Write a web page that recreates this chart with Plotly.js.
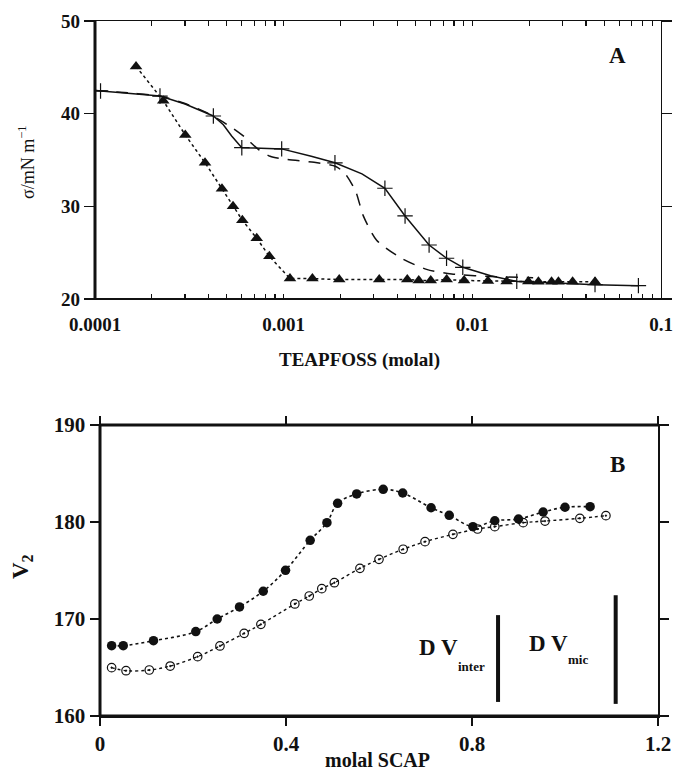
<!DOCTYPE html>
<html><head><meta charset="utf-8">
<script src="https://cdn.plot.ly/plotly-3.0.1.min.js"></script>
<style>body{margin:0;background:#fff}</style>
</head><body><div id="chart" style="width:673px;height:771px"></div>
<script>
// ---- Panel A: surface tension vs TEAPFOSS (molal) ----
const triX = [1.65e-4, 2.30e-4, 3.01e-4, 3.83e-4, 4.71e-4, 5.39e-4, 6.04e-4, 7.2e-4, 8.4e-4, 1.08e-3, 1.42e-3, 1.97e-3, 3.21e-3, 4.52e-3, 5.2e-3, 6.02e-3, 7.31e-3, 9.04e-3, 0.0121, 0.0152, 0.0198, 0.0224, 0.0263, 0.0286, 0.034, 0.0447];
const triY = [45.1, 41.4, 37.7, 34.7, 31.9, 30.0, 28.5, 26.55, 24.6, 22.2, 22.2, 22.1, 22.1, 22.1, 22.0, 22.0, 22.1, 22.0, 21.95, 21.9, 21.9, 21.85, 21.85, 21.85, 21.85, 21.85];

const solidX = [1.0e-4, 1.07e-4, 1.6e-4, 2.21e-4, 3.0e-4, 3.7e-4, 4.24e-4, 4.79e-4, 5.3e-4, 6.0e-4, 9.76e-4, 1.4e-3, 1.87e-3, 2.6e-3, 3.44e-3, 4.4e-3, 5.9e-3, 7.3e-3, 8.9e-3, 0.0125, 0.0172, 0.03, 0.0447, 0.0759];
const solidY = [42.5, 42.45, 42.2, 41.9, 41.05, 40.3, 39.75, 38.8, 37.6, 36.33, 36.2, 35.4, 34.7, 33.5, 31.95, 28.96, 25.83, 24.4, 23.42, 22.5, 21.9, 21.7, 21.55, 21.44];
const solidMarkX = [1.07e-4, 2.21e-4, 4.24e-4, 6.0e-4, 9.76e-4, 1.87e-3, 3.44e-3, 4.4e-3, 5.9e-3, 7.3e-3, 8.9e-3, 0.0172, 0.0447, 0.0759];
const solidMarkY = [42.45, 41.9, 39.75, 36.33, 36.2, 34.7, 31.95, 28.96, 25.83, 24.4, 23.42, 21.9, 21.55, 21.44];

const dashX = [1.0e-4, 1.6e-4, 2.2e-4, 3.0e-4, 3.91e-4, 4.6e-4, 5.4e-4, 6.24e-4, 7.34e-4, 8.47e-4, 1.05e-3, 1.45e-3, 1.89e-3, 2.11e-3, 2.41e-3, 2.64e-3, 3.11e-3, 4.21e-3, 5.72e-3, 7.77e-3, 0.01346, 0.021];
const dashY = [42.5, 42.2, 41.9, 41.1, 40.1, 39.3, 38.4, 37.45, 36.15, 35.4, 35.05, 34.75, 34.3, 33.56, 31.6, 29.0, 26.35, 24.4, 23.2, 22.7, 22.4, 22.3];

const xTicksA = [1e-4, 1e-3, 1e-2, 1e-1];
const xTickTextA = ['0.0001', '0.001', '0.01', '0.1'];
const yTicksA = [20, 30, 40, 50];

// ---- Panel B: V2 vs molal SCAP ----
const filledX = [0.025, 0.050, 0.115, 0.206, 0.252, 0.300, 0.351, 0.399, 0.452, 0.488, 0.511, 0.552, 0.609, 0.651, 0.712, 0.751, 0.802, 0.849, 0.900, 0.953, 1.000, 1.054];
const filledY = [167.25, 167.25, 167.76, 168.7, 170.0, 171.24, 172.86, 175.02, 178.11, 179.93, 181.93, 182.89, 183.37, 182.99, 181.47, 180.69, 179.52, 180.13, 180.31, 181.03, 181.52, 181.58];
const openX = [0.025, 0.056, 0.106, 0.151, 0.210, 0.258, 0.310, 0.346, 0.419, 0.450, 0.477, 0.504, 0.559, 0.600, 0.652, 0.699, 0.759, 0.812, 0.849, 0.910, 0.957, 1.032, 1.088];
const openY = [164.98, 164.67, 164.74, 165.15, 166.12, 167.22, 168.52, 169.45, 171.55, 172.37, 173.13, 173.74, 175.22, 176.15, 177.19, 177.97, 178.73, 179.28, 179.52, 179.93, 180.1, 180.38, 180.65];

const deltaNames = ['inter', 'mic'];
const deltaX = [0.856, 1.109];
const deltaLow = [161.45, 161.25];
const deltaHigh = [170.4, 172.45];

const xTicksB = [0, 0.4, 0.8, 1.2];
const xTickTextB = ['0', '0.4', '0.8', '1.2'];
const yTicksB = [160, 170, 180, 190];

// minor ticks for log axis
const minorA = [];
for (let e = -4; e < -1; e++) for (let m = 2; m <= 9; m++) minorA.push(m * Math.pow(10, e));

const SERIF = 'Liberation Serif, Times New Roman, serif';
const K = '#111';

const traces = [
  {x: dashX, y: dashY, xaxis: 'x', yaxis: 'y', mode: 'lines', line: {color: K, width: 1.5, dash: '12px,9px', shape: 'spline', smoothing: 0.7}, hoverinfo: 'skip'},
  {x: solidX, y: solidY, xaxis: 'x', yaxis: 'y', mode: 'lines', line: {color: K, width: 1.5}, hoverinfo: 'skip'},
  {x: solidMarkX, y: solidMarkY, xaxis: 'x', yaxis: 'y', mode: 'markers', marker: {symbol: 'cross-thin-open', size: 11, color: K, line: {color: K, width: 1.2}}},
  {x: triX, y: triY, xaxis: 'x', yaxis: 'y', mode: 'lines+markers', line: {color: K, width: 1.5, dash: 'dot'}, marker: {symbol: 'triangle-up', size: 11, color: K}},
  {x: filledX, y: filledY, xaxis: 'x2', yaxis: 'y2', mode: 'lines+markers', line: {color: K, width: 1.6, dash: 'dot', shape: 'spline', smoothing: 1}, marker: {symbol: 'circle', size: 9.5, color: K}},
  {x: openX, y: openY, xaxis: 'x2', yaxis: 'y2', mode: 'lines+markers', line: {color: K, width: 1.4, dash: 'dot', shape: 'spline', smoothing: 1}, marker: {symbol: 'circle-open-dot', size: 8.5, color: K, line: {color: K, width: 1.2}}}
];
deltaNames.forEach((n, i) => {
  traces.push({x: [deltaX[i], deltaX[i]], y: [deltaLow[i], deltaHigh[i]], xaxis: 'x2', yaxis: 'y2', mode: 'lines', line: {color: K, width: 4}, hoverinfo: 'skip'});
});

const tf = (s) => ({family: SERIF, size: s, color: K, weight: 'bold'});
const ann = (o) => Object.assign({showarrow: false, xanchor: 'center', yanchor: 'middle'}, o);

const layout = {
  width: 673, height: 771,
  margin: {l: 0, r: 0, t: 0, b: 0},
  paper_bgcolor: '#fff', plot_bgcolor: '#fff',
  showlegend: false,
  xaxis: {
    type: 'log', range: [-4, -1], domain: [95/673, 661/673], anchor: 'y',
    tickvals: xTicksA, ticktext: xTickTextA, ticks: 'inside', ticklen: 5, tickwidth: 1.2, tickcolor: K,
    minor: {tickvals: minorA, ticks: 'inside', ticklen: 5, tickwidth: 1.2, tickcolor: K},
    showline: true, linecolor: K, linewidth: 1.2, mirror: 'ticks', showgrid: false, zeroline: false,
    tickfont: tf(19), ticklabelstandoff: 8
  },
  yaxis: {
    range: [20, 50], domain: [(771-299)/771, (771-21)/771], anchor: 'x',
    tickvals: yTicksA, ticks: 'outside', ticklen: 10, tickwidth: 1.2, tickcolor: K,
    showline: true, linecolor: K, linewidth: 1.2, mirror: 'ticks', showgrid: false, zeroline: false,
    tickfont: tf(19)
  },
  xaxis2: {
    range: [0, 1.2], domain: [100/673, 658/673], anchor: 'y2',
    tickvals: xTicksB, ticktext: xTickTextB, ticks: 'outside', ticklen: 8, tickwidth: 1.5, tickcolor: K,
    showline: true, linecolor: K, linewidth: 1.5, mirror: 'ticks', showgrid: false, zeroline: false,
    tickfont: tf(21), ticklabelstandoff: 0
  },
  yaxis2: {
    range: [160, 190], domain: [(771-716)/771, (771-425)/771], anchor: 'x2',
    tickvals: yTicksB, ticks: 'outside', ticklen: 9, tickwidth: 1.5, tickcolor: K,
    showline: true, linecolor: K, linewidth: 1.5, mirror: 'ticks', showgrid: false, zeroline: false,
    tickfont: tf(21)
  },
  shapes: [
    {type: 'line', xref: 'x domain', yref: 'y domain', x0: 0, x1: 0, y0: 0, y1: 1, line: {color: K, width: 3}},
    {type: 'line', xref: 'x domain', yref: 'y domain', x0: 0, x1: 1, y0: 0, y1: 0, line: {color: K, width: 2}},
    {type: 'line', xref: 'x2 domain', yref: 'y2 domain', x0: 0, x1: 0, y0: 0, y1: 1, line: {color: K, width: 3}},
    {type: 'line', xref: 'x2 domain', yref: 'y2 domain', x0: 0, x1: 1, y0: 0, y1: 0, line: {color: K, width: 3}},
    {type: 'line', xref: 'x2 domain', yref: 'y2 domain', x0: 0, x1: 1, y0: 1, y1: 1, line: {color: K, width: 3}}
  ],
  annotations: [
    ann({text: 'A', xref: 'paper', yref: 'paper', x: 617/673, y: (771-56)/771, font: tf(23)}),
    ann({text: 'B', xref: 'paper', yref: 'paper', x: 617/673, y: (771-464.5)/771, font: tf(23)}),
    ann({text: 'TEAPFOSS (molal)', xref: 'paper', yref: 'paper', x: 359/673, y: (771-360)/771, font: tf(19)}),
    ann({text: 'molal SCAP', xref: 'paper', yref: 'paper', x: 377/673, y: (771-760)/771, font: tf(20)}),
    ann({text: 'σ/mN m<sup>−1</sup>', xref: 'paper', yref: 'paper', x: 26/673, y: (771-162)/771, textangle: -90, font: {family: SERIF, size: 18, color: K}}),
    ann({text: 'V<sub>2</sub>', xref: 'paper', yref: 'paper', x: 22/673, y: (771-567)/771, textangle: -90, font: tf(23)}),
    ann({text: 'D V', xref: 'x2', yref: 'y2', x: 0.727, y: 167.06, font: tf(23)}),
    ann({text: deltaNames[0], xref: 'x2', yref: 'y2', x: 0.799, y: 165.1, font: tf(13)}),
    ann({text: 'D V', xref: 'x2', yref: 'y2', x: 0.9645, y: 167.5, font: tf(23)}),
    ann({text: deltaNames[1], xref: 'x2', yref: 'y2', x: 1.028, y: 165.85, font: tf(13)})
  ]
};

Plotly.newPlot('chart', traces, layout, {staticPlot: true, displayModeBar: false});
</script>
</body></html>
